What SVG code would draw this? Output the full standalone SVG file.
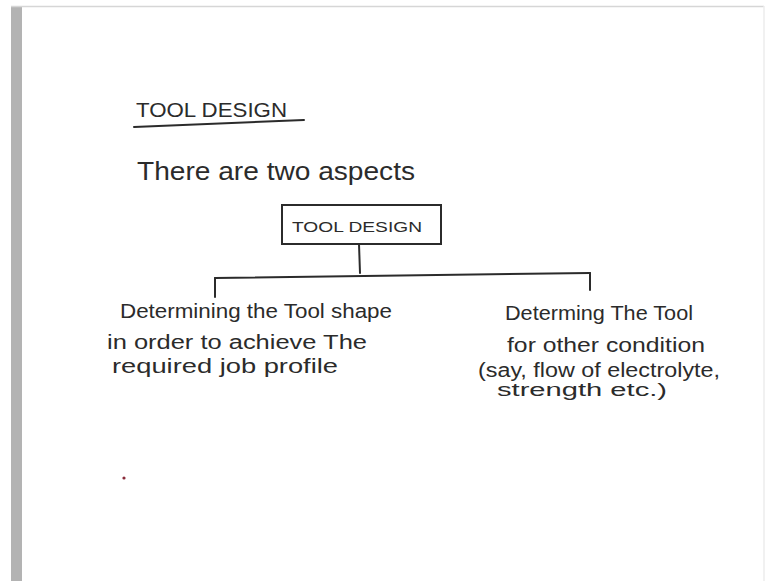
<svg xmlns="http://www.w3.org/2000/svg" width="768" height="581" viewBox="0 0 768 581">
  <style>
    .hw { font-family: "Liberation Sans", "DejaVu Sans", sans-serif; fill: #2b2b2b; }
    .ln { stroke: #2b2b2b; stroke-width: 2; fill: none; stroke-linecap: round; }
  </style>
  <rect x="0" y="0" width="768" height="581" fill="#ffffff"/>
  <rect x="11" y="6" width="11" height="575" fill="#b3b3b3"/>
  <line x1="11" y1="6.5" x2="764" y2="6.5" stroke="#d6d6d6" stroke-width="1.5"/>
  <line x1="764" y1="6" x2="764" y2="581" stroke="#ececec" stroke-width="1.5"/>

  <g id="title">
    <text class="hw" x="136" y="117" font-size="21" textLength="151" lengthAdjust="spacingAndGlyphs">TOOL DESIGN</text>
    <path class="ln" d="M134 127 L304 120"/>
  </g>
  <g id="intro">
    <text class="hw" x="137" y="180" font-size="26" textLength="278" lengthAdjust="spacingAndGlyphs">There are two aspects</text>
  </g>

  <g id="root">
    <rect class="ln" x="282" y="205" width="159" height="39"/>
    <text class="hw" x="292" y="232" font-size="14" textLength="130" lengthAdjust="spacingAndGlyphs">TOOL DESIGN</text>
  </g>

  <g id="connectors">
    <path class="ln" d="M359 244 L360 273"/>
    <path class="ln" d="M215 278 L590 273"/>
    <path class="ln" d="M215 278 L215 297"/>
    <path class="ln" d="M590 273 L590 290"/>
  </g>

  <g id="left">
    <text class="hw" x="120" y="318" font-size="20" textLength="272" lengthAdjust="spacingAndGlyphs">Determining the Tool shape</text>
    <text class="hw" x="107" y="349" font-size="20" textLength="260" lengthAdjust="spacingAndGlyphs">in order to achieve The</text>
    <text class="hw" x="112" y="373" font-size="20" textLength="226" lengthAdjust="spacingAndGlyphs">required job profile</text>
  </g>

  <g id="right">
    <text class="hw" x="505" y="320" font-size="20" textLength="188" lengthAdjust="spacingAndGlyphs">Determing The Tool</text>
    <text class="hw" x="507" y="352" font-size="20" textLength="198" lengthAdjust="spacingAndGlyphs">for other condition</text>
    <text class="hw" x="478" y="377" font-size="20" textLength="242" lengthAdjust="spacingAndGlyphs">(say, flow of electrolyte,</text>
    <text class="hw" x="497" y="396" font-size="18" textLength="170" lengthAdjust="spacingAndGlyphs">strength etc.)</text>
  </g>

  <circle cx="124" cy="478" r="1.6" fill="#8a2b3a"/>
</svg>
